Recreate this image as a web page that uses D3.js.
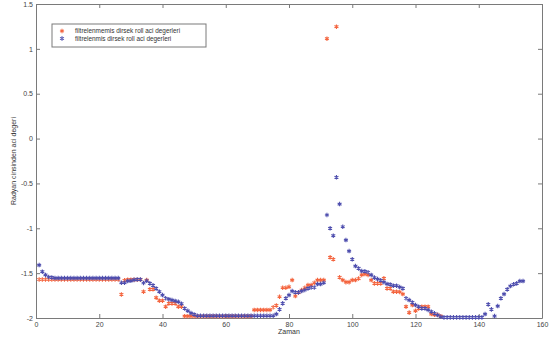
<!DOCTYPE html>
<html>
<head>
<meta charset="utf-8">
<script src="https://cdn.jsdelivr.net/npm/d3@7/dist/d3.min.js"></script>
<style>
  body { margin: 0; background: #fff; }
  svg { display: block; font-family: "Liberation Sans", Arial, sans-serif; }
</style>
</head>
<body>
<svg id="chart" width="556" height="339"></svg>
<script>
// unfiltered roll angle (x = 1..128)
const rawValues = [
  -1.571, -1.571, -1.571, -1.571, -1.571, -1.571, -1.571, -1.571, -1.571, -1.571,
  -1.571, -1.571, -1.571, -1.571, -1.571, -1.571, -1.571, -1.571, -1.571, -1.571,
  -1.571, -1.571, -1.571, -1.571, -1.571, -1.571, -1.737, -1.58, -1.573, -1.573,
  -1.573, -1.573, -1.573, -1.707, -1.577, -1.68, -1.68, -1.774, -1.807, -1.807,
  -1.874, -1.837, -1.837, -1.837, -1.874, -1.874, -1.98, -1.98, -1.98, -1.98,
  -1.98, -1.98, -1.98, -1.98, -1.98, -1.98, -1.98, -1.98, -1.98, -1.98,
  -1.98, -1.98, -1.98, -1.98, -1.98, -1.98, -1.98, -1.98, -1.91, -1.91,
  -1.91, -1.91, -1.91, -1.91, -1.88, -1.86, -1.763, -1.663, -1.663, -1.652,
  -1.577, -1.755, -1.718, -1.688, -1.663, -1.633, -1.633, -1.607, -1.577, -1.577,
  -1.577, 1.113, -1.324, -1.346, 1.247, -1.547, -1.577, -1.6, -1.6, -1.577,
  -1.577, -1.56, -1.52, -1.51, -1.52, -1.577, -1.614, -1.614, -1.614, -1.558,
  -1.67, -1.67, -1.707, -1.707, -1.71, -1.733, -1.874, -1.94, -1.856, -1.92,
  -1.893, -1.874, -1.874, -1.874, -1.956, -1.965, -1.965, -1.98
];

// filtered roll angle (x = 1..154)
const filteredValues = [
  -1.41, -1.484, -1.52, -1.543, -1.548, -1.555, -1.555, -1.555, -1.555, -1.555,
  -1.555, -1.555, -1.555, -1.555, -1.555, -1.555, -1.555, -1.555, -1.555, -1.555,
  -1.555, -1.555, -1.555, -1.555, -1.555, -1.555, -1.607, -1.607, -1.588, -1.585,
  -1.575, -1.57, -1.57, -1.61, -1.585, -1.614, -1.636, -1.67, -1.707, -1.744,
  -1.78, -1.79, -1.8, -1.81, -1.82, -1.84, -1.893, -1.92, -1.945, -1.96,
  -1.975, -1.975, -1.975, -1.975, -1.975, -1.975, -1.975, -1.975, -1.975, -1.975,
  -1.975, -1.975, -1.975, -1.975, -1.975, -1.975, -1.975, -1.975, -1.975, -1.975,
  -1.975, -1.975, -1.975, -1.975, -1.975, -1.956, -1.904, -1.837, -1.781, -1.744,
  -1.7, -1.714, -1.714, -1.7, -1.688, -1.67, -1.66, -1.66, -1.622, -1.622,
  -1.607, -0.852, -1.0, -1.083, -0.432, -0.73, -0.983, -1.131, -1.254, -1.346,
  -1.421, -1.447, -1.477, -1.48, -1.49, -1.52, -1.55, -1.566, -1.58, -1.6,
  -1.62, -1.626, -1.64, -1.64, -1.655, -1.67, -1.78, -1.8, -1.826, -1.856,
  -1.874, -1.893, -1.893, -1.91, -1.93, -1.948, -1.967, -1.986, -1.993, -1.993,
  -1.993, -1.993, -1.993, -1.993, -1.993, -1.993, -1.993, -1.993, -1.993, -1.993,
  -1.993, -1.956, -1.848, -1.904, -1.978, -1.867, -1.781, -1.733, -1.681, -1.644,
  -1.625, -1.614, -1.588, -1.588
];

const xTicks = [0, 20, 40, 60, 80, 100, 120, 140, 160];
const yTicks = [-2, -1.5, -1, -0.5, 0, 0.5, 1, 1.5];
const seriesNames = [
  'filtrelenmemis dirsek roll aci degerleri',
  'filtrelenmis dirsek roll aci degerleri'
];
const seriesColors = ['#f4653f', '#4e4eae'];

const margin = { left: 36, right: 14, top: 4, bottom: 21 };
const width = 556, height = 339;
const svg = d3.select('#chart');

const x = d3.scaleLinear().domain([0, 160]).range([margin.left, width - margin.right]);
const y = d3.scaleLinear().domain([-2, 1.5]).range([height - margin.bottom, margin.top]);

const axisColor = '#7a7a7a';
const fmt = d => String(d);

// box + axes (matlab style, ticks inside on all four sides)
const axisBottomG = svg.append('g').attr('transform', `translate(0,${y(-2)})`)
  .call(d3.axisBottom(x).tickValues(xTicks).tickFormat(fmt).tickSizeInner(-4).tickSizeOuter(0).tickPadding(4));
const axisTopG = svg.append('g').attr('transform', `translate(0,${y(1.5)})`)
  .call(d3.axisTop(x).tickValues(xTicks).tickFormat('').tickSizeInner(-4).tickSizeOuter(0));
const axisLeftG = svg.append('g').attr('transform', `translate(${x(0)},0)`)
  .call(d3.axisLeft(y).tickValues(yTicks).tickFormat(fmt).tickSizeInner(-4).tickSizeOuter(0).tickPadding(3));
const axisRightG = svg.append('g').attr('transform', `translate(${x(160)},0)`)
  .call(d3.axisRight(y).tickValues(yTicks).tickFormat('').tickSizeInner(-4).tickSizeOuter(0));

[axisBottomG, axisTopG, axisLeftG, axisRightG].forEach(g => {
  g.selectAll('path, line').attr('stroke', axisColor).attr('stroke-width', 1);
  g.selectAll('text').attr('fill', '#444').style('font-size', '7px');
});

// asterisk markers
const star = d3.symbol().type(d3.symbolAsterisk).size(14);

function drawSeries(values, color) {
  svg.append('g').selectAll('path')
    .data(values)
    .join('path')
    .attr('d', star)
    .attr('transform', (d, i) => `translate(${x(i + 1)},${y(d)})`)
    .attr('fill', 'none')
    .attr('stroke', color)
    .attr('stroke-width', 1.1);
}

drawSeries(rawValues, seriesColors[0]);
drawSeries(filteredValues, seriesColors[1]);

// axis titles
svg.append('text')
  .attr('x', (x(0) + x(160)) / 2).attr('y', 334)
  .attr('text-anchor', 'middle').attr('fill', '#333')
  .style('font-size', '7px')
  .text('Zaman');

svg.append('text')
  .attr('transform', `translate(16,${(y(-2) + y(1.5)) / 2}) rotate(-90)`)
  .attr('text-anchor', 'middle').attr('fill', '#333')
  .style('font-size', '7px')
  .text('Radyan cinsinden aci degeri');

// legend
const legend = svg.append('g');
legend.append('rect')
  .attr('x', 52).attr('y', 24).attr('width', 154).attr('height', 23)
  .attr('fill', '#fff').attr('stroke', axisColor).attr('stroke-width', 1);

seriesNames.forEach((name, i) => {
  const ly = 31 + i * 7.5;
  legend.append('path')
    .attr('d', star)
    .attr('transform', `translate(62,${ly})`)
    .attr('fill', 'none')
    .attr('stroke', seriesColors[i])
    .attr('stroke-width', 1.1);
  legend.append('text')
    .attr('x', 75).attr('y', ly + 2.3)
    .attr('fill', '#333')
    .style('font-size', '6.4px')
    .text(name);
});
</script>
</body>
</html>
